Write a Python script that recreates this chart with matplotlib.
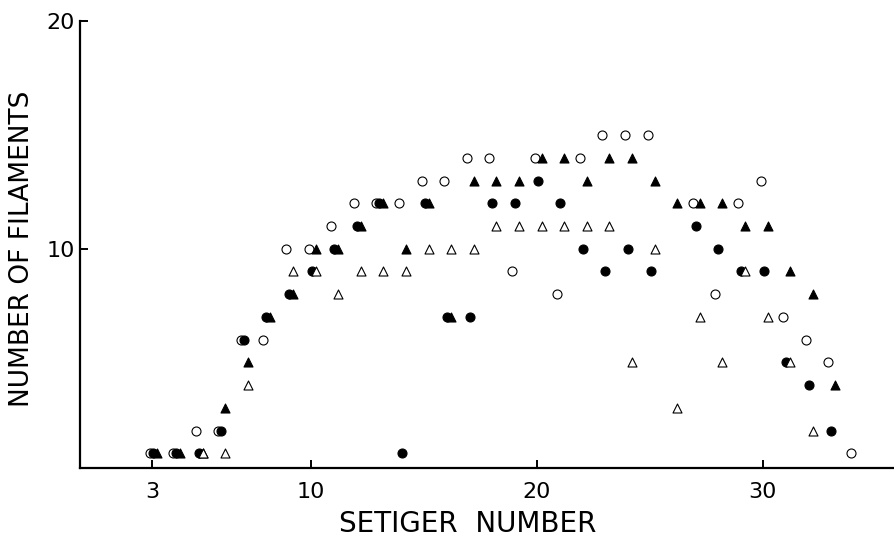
import matplotlib
matplotlib.use("Agg")
import matplotlib.pyplot as plt
from matplotlib.transforms import offset_copy

# setiger number -> number of filaments, one list pair per symbol
open_circle_x = [3, 4, 5, 6, 7, 8, 9, 10, 11, 12, 13, 14, 15, 16, 17, 18,
                 19, 20, 21, 22, 23, 24, 25, 27, 28, 29, 30, 31, 32, 33, 34]
open_circle_y = [1, 1, 2, 2, 6, 6, 10, 10, 11, 12, 12, 12, 13, 13, 14, 14,
                 9, 14, 8, 14, 15, 15, 15, 12, 8, 12, 13, 7, 6, 5, 1]

filled_circle_x = [3, 4, 5, 6, 7, 8, 9, 10, 11, 12, 13, 14, 15, 16, 17, 18,
                   19, 20, 21, 22, 23, 24, 25, 27, 28, 29, 30, 31, 32, 33]
filled_circle_y = [1, 1, 1, 2, 6, 7, 8, 9, 10, 11, 12, 1, 12, 7, 7, 12,
                   12, 13, 12, 10, 9, 10, 9, 11, 10, 9, 9, 5, 4, 2]

filled_tri_x = [3, 4, 5, 6, 7, 8, 9, 10, 11, 12, 13, 14, 15, 16, 17, 18,
                19, 20, 21, 22, 23, 24, 25, 26, 27, 28, 29, 30, 31, 32, 33]
filled_tri_y = [1, 1, 1, 3, 5, 7, 8, 10, 10, 11, 12, 10, 12, 7, 13, 13,
                13, 14, 14, 13, 14, 14, 13, 12, 12, 12, 11, 11, 9, 8, 4]

open_tri_x = [5, 6, 7, 9, 10, 11, 12, 13, 14, 15, 16, 17, 18, 19, 20, 21,
              22, 23, 24, 25, 26, 27, 28, 29, 30, 31, 32]
open_tri_y = [1, 1, 4, 9, 9, 8, 9, 9, 9, 10, 10, 10, 11, 11, 11, 11,
              11, 11, 5, 10, 3, 7, 5, 9, 7, 5, 2]

x_ticks = [3, 10, 20, 30]
y_ticks = [10, 20]

fig = plt.figure(figsize=(8.95, 5.4), dpi=100)
ax = fig.add_axes([0.0894, 0.1333, 0.9106, 0.827])

# small sideways shifts (in pixels) so coincident symbols stay visible
series = [
    (open_circle_x, open_circle_y, "o", "white", -2),
    (filled_circle_x, filled_circle_y, "o", "black", 1),
    (filled_tri_x, filled_tri_y, "^", "black", 5),
    (open_tri_x, open_tri_y, "^", "white", 5),
]
for xs, ys, mk, fc, dx in series:
    tr = offset_copy(ax.transData, fig=fig, x=dx, y=0, units="dots")
    ax.scatter(xs, ys, marker=mk, s=42, facecolors=fc, edgecolors="black",
               linewidths=0.8, transform=tr, zorder=3)

ax.set_xlim(-0.2, 35.86)
ax.set_ylim(0.35, 20)
ax.set_xticks(x_ticks)
ax.set_yticks(y_ticks)
ax.spines["top"].set_visible(False)
ax.spines["right"].set_visible(False)
for sp in ("left", "bottom"):
    ax.spines[sp].set_linewidth(1.6)
ax.tick_params(direction="in", length=6, width=1.4, labelsize=16, pad=4)
ax.tick_params(axis="x", pad=10)

ax.set_xlabel("SETIGER  NUMBER", fontsize=20)
ax.set_ylabel("NUMBER OF FILAMENTS", fontsize=19)
ax.xaxis.set_label_coords(0.476, -0.095)
ax.yaxis.set_label_coords(-0.055, 0.49)

fig.savefig("out.png", dpi=100)
